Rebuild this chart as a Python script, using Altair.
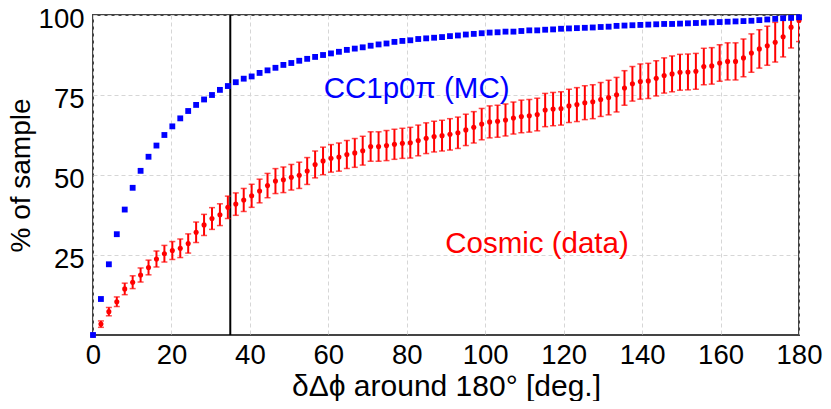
import altair as alt
import pandas as pd

# bin positions (90 bins over 0..180 deg)
angle = [round(i * 180 / 89, 3) for i in range(90)]

# CC1p0pi (MC) cumulative %
mc = [0, 11.25, 22.1, 31.5, 39.2, 46.0, 51.3, 55.7, 59.2, 62.5,
      65.2, 67.7, 70.0, 71.9, 73.6, 75.0, 76.6, 77.8, 79.0, 80.1,
      80.8, 81.9, 82.7, 83.5, 84.4, 85.0, 85.7, 86.3, 86.9, 87.5,
      88.0, 88.5, 89.1, 89.5, 89.9, 90.4, 90.8, 91.1, 91.6, 91.9,
      92.1, 92.5, 92.7, 92.9, 93.1, 93.4, 93.6, 93.9, 94.1, 94.3,
      94.5, 94.6, 94.8, 94.8, 95.0, 95.2, 95.2, 95.4, 95.5, 95.7,
      95.8, 95.9, 96.0, 96.1, 96.25, 96.35, 96.6, 96.7, 96.8, 96.9,
      97.0, 97.1, 97.2, 97.2, 97.3, 97.4, 97.5, 97.6, 97.7, 97.8,
      97.9, 98.0, 98.1, 98.2, 98.4, 98.6, 98.8, 99.0, 99.1, 99.3]

# Cosmic (data) cumulative %
cosmic = [0, 3.4, 7.3, 10.4, 14.4, 16.5, 18.75, 21.1, 23.75, 25.4,
          26.4, 27.1, 28.6, 32.1, 34.4, 36.4, 37.6, 39.9, 40.9, 42.2,
          43.5, 45.0, 46.7, 48.1, 48.5, 49.3, 49.9, 51.25, 53.3, 54.4,
          55.2, 55.6, 56.4, 56.9, 57.6, 58.9, 58.9, 59.2, 59.6, 59.9,
          60.1, 60.8, 61.5, 62.0, 62.3, 62.7, 63.2, 64.1, 64.9, 65.9,
          66.6, 66.8, 67.2, 67.8, 68.3, 68.5, 68.9, 70.3, 70.6, 70.8,
          71.6, 72.0, 72.6, 72.9, 73.6, 74.2, 75.1, 77.2, 78.5, 79.2,
          79.4, 80.2, 81.1, 81.6, 82.1, 82.2, 82.4, 83.9, 84.1, 85.0,
          85.5, 85.5, 86.6, 88.1, 89.4, 90.4, 91.5, 93.2, 96.2, 98.3]

# Cosmic (data) error (half length)
cosmic_err = [0.3, 1.0, 1.3, 1.5, 1.8, 2.0, 2.2, 2.3, 2.5, 2.6,
              2.8, 2.9, 3.0, 3.2, 3.3, 3.4, 3.4, 3.5, 3.5, 3.6,
              3.6, 3.7, 3.8, 3.9, 4.0, 4.0, 4.1, 4.2, 4.2, 4.3,
              4.3, 4.4, 4.4, 4.5, 4.5, 4.6, 4.6, 4.7, 4.7, 4.7,
              4.8, 4.8, 4.8, 4.8, 4.8, 4.9, 4.9, 4.9, 4.9, 4.9,
              5.0, 5.0, 5.0, 5.0, 5.1, 5.1, 5.1, 5.2, 5.2, 5.2,
              5.2, 5.3, 5.3, 5.3, 5.3, 5.4, 5.4, 5.4, 5.4, 5.5,
              5.5, 5.5, 5.5, 5.6, 5.6, 5.6, 5.6, 5.7, 5.7, 5.7,
              5.8, 5.8, 5.9, 6.0, 6.0, 6.1, 6.2, 6.3, 6.5, 6.6]

x_ticks = [0, 20, 40, 60, 80, 100, 120, 140, 160, 180]
y_ticks = [25, 50, 75, 100]
cut_value = [35]

labels = ["CC1p0π (MC)", "Cosmic (data)"]
label_x = [82.5, 113.2]
label_y = [77.0, 28.5]
label_color = ["#0000ff", "#ff0000"]

FONT = "Liberation Sans, DejaVu Sans"

df = pd.DataFrame({"angle": angle, "mc": mc, "cosmic": cosmic, "err": cosmic_err})
df_cut = pd.DataFrame({"cut": cut_value})
df_lab = pd.DataFrame({"label": labels, "lx": label_x, "ly": label_y, "col": label_color})

xscale = alt.Scale(domain=[0, 180], nice=False, zero=False)
yscale = alt.Scale(domain=[0, 100], nice=False)
xaxis = alt.Axis(values=x_ticks, title="δΔϕ around 180° [deg.]", labelPadding=6,
                 titlePadding=3, format="d", labelFlush=False, labelOverlap=False,
                 labelBound=False, titleFontSize=30)
yaxis = alt.Axis(values=y_ticks, title="% of sample", labelPadding=9,
                 titlePadding=3, format="d", labelFlush=False, labelOverlap=False,
                 labelBound=False, labelOffset=4, titleFontSize=28)


def X(field):
    return alt.X(field, type="quantitative", scale=xscale, axis=xaxis)


def Y(field):
    return alt.Y(field, type="quantitative", scale=yscale, axis=yaxis)


base = alt.Chart(df).transform_calculate(
    lo="datum.cosmic - datum.err", hi="datum.cosmic + datum.err"
)

cut = alt.Chart(df_cut).mark_rule(color="black", strokeWidth=2).encode(x=X("cut"))

bars = base.mark_rule(color="#ff0000", strokeWidth=2, clip=True).encode(
    x=X("angle"), y=Y("lo"), y2="hi:Q"
)
cap_lo = base.mark_tick(color="#ff0000", orient="horizontal", size=6, thickness=1.5,
                        clip=True).encode(x=X("angle"), y=Y("lo"))
cap_hi = base.mark_tick(color="#ff0000", orient="horizontal", size=6, thickness=1.5,
                        clip=True).encode(x=X("angle"), y=Y("hi"))
dots = base.mark_circle(color="#ff0000", size=26, opacity=1).encode(
    x=X("angle"), y=Y("cosmic")
)
squares = base.mark_square(color="#0000ff", size=34, opacity=1).encode(
    x=X("angle"), y=Y("mc")
)
texts = alt.Chart(df_lab).mark_text(font=FONT, fontSize=29.5, align="center",
                                    baseline="middle").encode(
    x=X("lx"), y=Y("ly"), text="label:N", color=alt.Color("col:N", scale=None)
)

chart = alt.layer(cut, bars, cap_lo, cap_hi, dots, squares, texts).properties(
    width=706, height=320,
    padding={"left": 85, "top": 7, "right": 24, "bottom": 66},
    autosize=alt.AutoSizeParams(type="none"),
    background="white",
).configure_view(
    stroke="#444444", strokeWidth=2
).configure_axis(
    domain=False, ticks=False, grid=True, gridColor="#d6d6d6", gridDash=[4, 3],
    gridWidth=1, labelFont=FONT, labelFontSize=27.5, labelColor="black",
    titleFont=FONT, titleFontWeight="normal", titleColor="black"
)

chart.save("out.html", embed_options={"renderer": "svg", "actions": False})
